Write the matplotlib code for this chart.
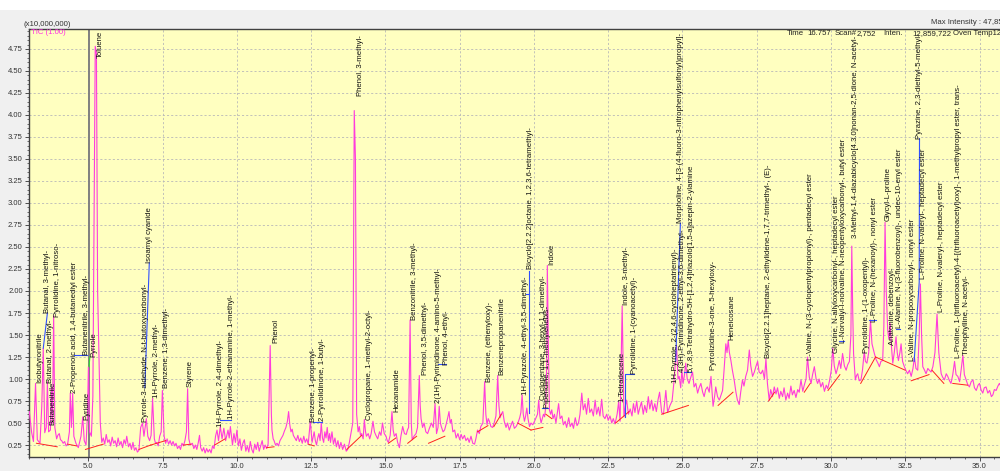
import matplotlib
matplotlib.use("Agg")
import matplotlib.pyplot as plt
from matplotlib.ticker import MultipleLocator, FormatStrFormatter
from matplotlib.patches import Rectangle

# ---------------- data ----------------
# TIC trace, (retention time [min], intensity [x10,000,000]) by region
seg_a = [(3.01, 0.63), (3.09, 0.39), (3.15, 0.29), (3.22, 0.95), (3.28, 0.31), (3.37, 0.27), (3.43, 0.69),
         (3.48, 1.35), (3.53, 0.39), (3.58, 0.45), (3.62, 0.97), (3.66, 0.40), (3.72, 0.42), (3.76, 0.90),
         (3.79, 0.50), (3.83, 1.72), (3.87, 0.45), (3.93, 0.32), (3.97, 0.36), (4.02, 0.38), (4.06, 0.31),
         (4.10, 0.30), (4.15, 0.27), (4.20, 0.29), (4.25, 0.24), (4.30, 0.26), (4.36, 0.40), (4.39, 0.84),
         (4.43, 0.45), (4.47, 0.84), (4.51, 0.35), (4.58, 0.27), (4.66, 0.22), (4.75, 0.35), (4.81, 0.57),
         (4.86, 0.30), (4.92, 0.25), (4.97, 0.60), (5.00, 1.14), (5.04, 0.40), (5.10, 0.35), (5.15, 0.80),
         (5.19, 2.80), (5.23, 4.78), (5.27, 4.70), (5.31, 2.00), (5.35, 1.36)]
seg_b = [(5.40, 0.50), (5.45, 0.28), (5.50, 0.33), (5.55, 0.26), (5.60, 0.37), (5.65, 0.28), (5.70, 0.31),
         (5.75, 0.24), (5.80, 0.34), (5.85, 0.27), (5.90, 0.30), (5.95, 0.23), (6.00, 0.33), (6.05, 0.25),
         (6.10, 0.29), (6.15, 0.22), (6.20, 0.31), (6.25, 0.26), (6.29, 0.35), (6.35, 0.23), (6.40, 0.27),
         (6.45, 0.20), (6.50, 0.28), (6.55, 0.19), (6.60, 0.22), (6.65, 0.17), (6.70, 0.19)]
seg_c = [(6.76, 0.45), (6.82, 0.50), (6.87, 0.35), (6.95, 0.55), (7.00, 0.35), (7.06, 0.30), (7.11, 0.36),
         (7.16, 0.78), (7.22, 0.32), (7.26, 0.27), (7.30, 0.28), (7.35, 0.24), (7.40, 0.35), (7.45, 0.40),
         (7.49, 0.87)]
seg_d = [(7.55, 0.35), (7.60, 0.27), (7.65, 0.32), (7.70, 0.26), (7.75, 0.30), (7.80, 0.25), (7.85, 0.29),
         (7.90, 0.24), (7.95, 0.27), (8.00, 0.21), (8.05, 0.24), (8.10, 0.20), (8.15, 0.27), (8.20, 0.24),
         (8.25, 0.30), (8.30, 0.40), (8.34, 0.89), (8.38, 0.32), (8.43, 0.25), (8.50, 0.27), (8.55, 0.21),
         (8.60, 0.25), (8.65, 0.20), (8.70, 0.28), (8.74, 0.36), (8.78, 0.22), (8.83, 0.18), (8.88, 0.22),
         (8.93, 0.16), (8.98, 0.21), (9.03, 0.17), (9.08, 0.20), (9.13, 0.16), (9.18, 0.24), (9.23, 0.21),
         (9.28, 0.35)]
seg_e = [(9.33, 0.42), (9.38, 0.30), (9.44, 0.46), (9.50, 0.32), (9.56, 0.44), (9.62, 0.30), (9.66, 0.36),
         (9.70, 0.42), (9.74, 0.33), (9.78, 0.46)]
seg_f = [(9.85, 0.25), (9.90, 0.38), (9.95, 0.28), (10.00, 0.42), (10.05, 0.24), (10.10, 0.32), (10.15, 0.19),
         (10.20, 0.27), (10.25, 0.31), (10.30, 0.18), (10.35, 0.24), (10.40, 0.17), (10.45, 0.29), (10.50, 0.20),
         (10.55, 0.16), (10.60, 0.26), (10.65, 0.20), (10.70, 0.28), (10.75, 0.18), (10.80, 0.24), (10.85, 0.30),
         (10.90, 0.20), (10.95, 0.25), (11.00, 0.21), (11.05, 0.26)]
seg_g = [(11.12, 1.38), (11.16, 0.60), (11.18, 0.42), (11.22, 0.32), (11.25, 0.30), (11.30, 0.25), (11.35, 0.27),
         (11.40, 0.24), (11.45, 0.30), (11.50, 0.33), (11.55, 0.36), (11.60, 0.41), (11.65, 0.45), (11.70, 0.52),
         (11.74, 0.63), (11.78, 0.48), (11.82, 0.40), (11.86, 0.43), (11.90, 0.36), (11.95, 0.33)]
seg_h = [(12.00, 0.30), (12.05, 0.36), (12.10, 0.29), (12.15, 0.33), (12.20, 0.27), (12.25, 0.35), (12.30, 0.28),
         (12.35, 0.32), (12.40, 0.26), (12.47, 0.52), (12.53, 0.28), (12.60, 0.40), (12.64, 0.30), (12.68, 0.25),
         (12.72, 0.33), (12.76, 0.38), (12.80, 0.30), (12.84, 0.50), (12.88, 0.33), (12.92, 0.28), (12.96, 0.40),
         (13.00, 0.33), (13.04, 0.45), (13.08, 0.30), (13.12, 0.38), (13.15, 0.28), (13.20, 0.40), (13.25, 0.26),
         (13.30, 0.33), (13.35, 0.23), (13.40, 0.30), (13.45, 0.21), (13.50, 0.28), (13.56, 0.20), (13.62, 0.26),
         (13.68, 0.18), (13.73, 0.20), (13.78, 0.27)]
seg_i = [(13.90, 0.50), (13.95, 4.05), (13.99, 3.50), (14.03, 0.60), (14.08, 0.40), (14.12, 0.46), (14.16, 0.36),
         (14.20, 0.38), (14.25, 0.32), (14.29, 0.54), (14.33, 0.40), (14.36, 0.35), (14.42, 0.38), (14.47, 0.32),
         (14.52, 0.38), (14.58, 0.52), (14.63, 0.40), (14.68, 0.36), (14.74, 0.32), (14.80, 0.40), (14.85, 0.36),
         (14.90, 0.50), (14.96, 0.38), (15.02, 0.35), (15.06, 0.30), (15.10, 0.28), (15.16, 0.36), (15.22, 0.63),
         (15.26, 0.42), (15.30, 0.35), (15.36, 0.38), (15.41, 0.28), (15.47, 0.22), (15.52, 0.35), (15.58, 0.46),
         (15.64, 0.38), (15.70, 0.37), (15.74, 0.42), (15.78, 0.45), (15.83, 1.67), (15.87, 0.50), (15.90, 0.31),
         (15.96, 0.35), (16.03, 0.38), (16.08, 0.45), (16.14, 1.04), (16.17, 0.70), (16.20, 0.55), (16.25, 0.45),
         (16.30, 0.50), (16.36, 0.40), (16.42, 0.38), (16.48, 0.44), (16.55, 0.50), (16.61, 0.45), (16.67, 0.72),
         (16.72, 0.38), (16.77, 0.45), (16.81, 0.69), (16.85, 0.50), (16.88, 0.46), (16.94, 0.40), (16.99, 0.42),
         (17.04, 0.48), (17.09, 0.55)]
seg_j = [(17.14, 0.63), (17.18, 0.50), (17.22, 0.54), (17.27, 0.40), (17.33, 0.42), (17.38, 0.33), (17.44, 0.38),
         (17.50, 0.31), (17.55, 0.37), (17.60, 0.32), (17.66, 0.36), (17.71, 0.30), (17.77, 0.33), (17.82, 0.28),
         (17.88, 0.35), (17.94, 0.27), (18.00, 0.26), (18.05, 0.33), (18.10, 0.42), (18.16, 0.38), (18.21, 0.46)]
seg_k = [(18.28, 0.50), (18.34, 0.97), (18.38, 0.60), (18.42, 0.48), (18.46, 0.55), (18.50, 0.52), (18.55, 0.46),
         (18.61, 0.45), (18.66, 0.50), (18.72, 0.58), (18.78, 1.04), (18.82, 0.70), (18.86, 0.56), (18.90, 0.60),
         (18.95, 0.63), (19.00, 0.52), (19.06, 0.45), (19.11, 0.50), (19.17, 0.42), (19.22, 0.47), (19.28, 0.52),
         (19.34, 0.44), (19.40, 0.46), (19.46, 0.50), (19.52, 0.56), (19.56, 0.62), (19.60, 0.82), (19.64, 0.60),
         (19.68, 0.52), (19.72, 0.58), (19.76, 0.67), (19.80, 0.55), (19.85, 0.46), (19.90, 0.50), (19.96, 0.48),
         (20.02, 0.52), (20.07, 0.56), (20.12, 0.60), (20.16, 0.76), (20.20, 0.58), (20.24, 0.50), (20.28, 0.55),
         (20.32, 0.60), (20.36, 0.57), (20.40, 0.70), (20.43, 1.20), (20.45, 2.29), (20.48, 1.50), (20.52, 0.65),
         (20.56, 0.60)]
seg_l = [(20.60, 0.65), (20.64, 0.55), (20.69, 0.60), (20.74, 0.50), (20.79, 0.62), (20.83, 0.72), (20.88, 0.55),
         (20.94, 0.58), (20.99, 0.48), (21.05, 0.52), (21.10, 0.45), (21.17, 0.56), (21.22, 0.46), (21.28, 0.50),
         (21.33, 0.44), (21.39, 0.56), (21.45, 0.47), (21.50, 0.50), (21.55, 0.60), (21.61, 0.84), (21.66, 0.65),
         (21.72, 0.72), (21.77, 0.60), (21.83, 0.78), (21.88, 0.62), (21.94, 0.66), (22.00, 0.58), (22.06, 0.76),
         (22.11, 0.60), (22.17, 0.68), (22.22, 0.58), (22.28, 0.77), (22.33, 0.58), (22.39, 0.55), (22.45, 0.60),
         (22.50, 0.53), (22.56, 0.58), (22.62, 0.50), (22.67, 0.55), (22.73, 0.49), (22.80, 0.60), (22.85, 0.74)]
seg_m = [(22.90, 0.52), (22.97, 1.83)]
seg_n = [(23.03, 0.57), (23.08, 0.70), (23.12, 0.76), (23.18, 0.60), (23.24, 0.66), (23.30, 0.58), (23.35, 0.72),
         (23.40, 0.62), (23.46, 0.75), (23.51, 0.60), (23.57, 0.68), (23.62, 0.74), (23.68, 0.60), (23.73, 0.70),
         (23.79, 0.62), (23.85, 0.80), (23.90, 0.66), (23.96, 0.76), (24.01, 0.64), (24.07, 0.72), (24.12, 0.63),
         (24.18, 0.77), (24.23, 0.85)]
seg_o = [(24.30, 0.62), (24.36, 0.60), (24.44, 0.87), (24.50, 0.62), (24.58, 0.70), (24.65, 0.75), (24.72, 0.99),
         (24.80, 1.38), (24.85, 1.00), (24.89, 1.03), (24.94, 0.90), (24.98, 1.10), (25.02, 0.95), (25.06, 1.03),
         (25.11, 1.18), (25.16, 1.00), (25.22, 0.95), (25.28, 1.02), (25.34, 1.08), (25.39, 0.91), (25.45, 0.95),
         (25.51, 0.84), (25.56, 0.90), (25.62, 0.95), (25.68, 0.85), (25.73, 0.80), (25.78, 0.88), (25.84, 0.91),
         (25.90, 0.85), (25.96, 1.03), (26.03, 0.69), (26.08, 0.80), (26.12, 0.91), (26.18, 0.80), (26.24, 0.76),
         (26.30, 0.82), (26.35, 0.87), (26.40, 1.10), (26.46, 1.40), (26.50, 1.30), (26.54, 1.44), (26.58, 1.30),
         (26.63, 1.21), (26.68, 1.10), (26.74, 0.99), (26.80, 0.85), (26.85, 0.76), (26.91, 0.71), (26.96, 0.85),
         (27.02, 0.99), (27.07, 0.92), (27.13, 1.03), (27.19, 1.10), (27.25, 1.33), (27.30, 1.15), (27.36, 1.03),
         (27.42, 1.08), (27.47, 1.14), (27.53, 1.20), (27.58, 1.08), (27.64, 1.06), (27.70, 1.10), (27.76, 1.00),
         (27.81, 1.23), (27.86, 0.95)]
seg_p = [(27.92, 0.76), (27.97, 0.88), (28.03, 0.80), (28.09, 0.91), (28.15, 0.83), (28.20, 0.90), (28.26, 0.78),
         (28.31, 0.86), (28.37, 0.80), (28.42, 0.90), (28.48, 0.76), (28.54, 0.84), (28.59, 0.78), (28.65, 0.92),
         (28.70, 0.82), (28.76, 0.87), (28.82, 0.79), (28.88, 0.88), (28.93, 0.85), (28.99, 0.99), (29.05, 0.86),
         (29.10, 0.93)]
seg_q = [(29.16, 1.00), (29.21, 1.25), (29.27, 1.02), (29.33, 0.95), (29.38, 1.05), (29.44, 1.14), (29.50, 1.00),
         (29.55, 0.95), (29.60, 1.00), (29.66, 0.91), (29.72, 0.96), (29.78, 0.86), (29.84, 0.93), (29.89, 0.89),
         (29.95, 0.98), (30.01, 1.10), (30.06, 1.35), (30.11, 1.15), (30.17, 1.06), (30.22, 1.12), (30.28, 1.21),
         (30.33, 1.12), (30.39, 1.29), (30.45, 1.15), (30.51, 1.10), (30.56, 1.16), (30.62, 1.20), (30.67, 1.50),
         (30.70, 2.51), (30.73, 1.80), (30.76, 1.29), (30.82, 0.99), (30.86, 1.04), (30.90, 1.06), (30.95, 0.98),
         (31.01, 0.99), (31.06, 1.10), (31.12, 1.31), (31.16, 1.20), (31.21, 1.18), (31.27, 1.30), (31.33, 1.67),
         (31.38, 1.40), (31.46, 1.29), (31.52, 1.22), (31.58, 1.18), (31.63, 1.14), (31.68, 1.20), (31.74, 1.21),
         (31.78, 1.60), (31.82, 2.78), (31.86, 2.00), (31.91, 1.55), (31.95, 1.45), (31.99, 1.63), (32.04, 1.35),
         (32.08, 1.18), (32.13, 1.30), (32.19, 1.48), (32.23, 1.30), (32.27, 1.21), (32.32, 1.30), (32.36, 1.40),
         (32.41, 1.20), (32.47, 1.14), (32.52, 1.10), (32.58, 1.06), (32.64, 1.10), (32.70, 1.03), (32.76, 1.12),
         (32.81, 1.25), (32.86, 1.12), (32.92, 1.10), (32.97, 1.50), (33.01, 2.08), (33.05, 1.50), (33.09, 1.14),
         (33.15, 1.10), (33.20, 1.06), (33.26, 1.12), (33.31, 1.10), (33.37, 1.08), (33.43, 1.14), (33.50, 1.30),
         (33.57, 1.74), (33.63, 1.30), (33.71, 1.06), (33.76, 1.02), (33.82, 0.99), (33.88, 1.06), (33.93, 1.03),
         (33.99, 0.98), (34.04, 0.95), (34.10, 1.05), (34.16, 1.20), (34.21, 1.05), (34.27, 1.03), (34.33, 0.97),
         (34.38, 1.10), (34.44, 1.27), (34.49, 1.05), (34.55, 0.99), (34.60, 0.94), (34.66, 0.91), (34.72, 0.97),
         (34.78, 0.99), (34.83, 0.90), (34.89, 0.87), (34.95, 0.93), (35.00, 0.95), (35.05, 0.88), (35.11, 0.84),
         (35.16, 0.90), (35.22, 0.91), (35.28, 0.84), (35.34, 0.87), (35.40, 0.80), (35.45, 0.82), (35.50, 0.88),
         (35.56, 0.87), (35.62, 0.92), (35.67, 0.95), (35.73, 0.91)]

# integration baselines: (start time, start level, end time, end level)
base_t0 = [3.25, 4.30, 4.90, 6.70, 7.10, 8.20, 9.25, 11.00, 12.40, 13.70, 15.10, 15.75, 16.45, 18.10,
           18.65, 19.45, 19.90, 20.40, 22.75, 24.30, 26.20, 27.90, 29.10, 29.90, 31.00, 31.50, 32.70,
           33.40, 34.10]
base_v0 = [0.27, 0.26, 0.20, 0.20, 0.25, 0.25, 0.25, 0.22, 0.26, 0.20, 0.27, 0.27, 0.27, 0.40,
           0.46, 0.50, 0.42, 0.60, 0.50, 0.60, 0.70, 0.75, 0.85, 0.87, 0.95, 1.25, 0.98, 1.10, 0.95]
base_t1 = [3.95, 4.60, 5.50, 7.10, 7.60, 8.45, 9.60, 11.25, 12.60, 14.20, 15.35, 16.05, 17.00, 18.45,
           18.90, 19.90, 20.30, 20.60, 23.20, 25.20, 26.70, 28.10, 29.30, 30.30, 31.50, 32.50, 33.30,
           33.80, 34.60]
base_v1 = [0.23, 0.24, 0.26, 0.25, 0.30, 0.26, 0.32, 0.23, 0.24, 0.36, 0.33, 0.35, 0.35, 0.47,
           0.60, 0.42, 0.45, 0.55, 0.63, 0.70, 0.85, 0.85, 0.95, 1.05, 1.25, 1.10, 1.05, 0.95, 0.93]

# compound labels: name, retention time (x), level where the text starts
names = [
    "Isobutyronitrile", "Butanal, 3-methyl-", "Butanal, 2-methyl-", "Butanenitrile",
    "Pyrrolidine, 1-nitroso-", "2-Propenoic acid, 1,4-butanediyl ester", "Butanenitrile, 3-methyl-",
    "Pyridine", "Pyrrole", "Toluene", "Pyrrole-3-aldehyde, N-t-butoxycarbonyl-", "Isoamyl cyanide",
    "1H-Pyrrole, 2-methyl-", "Benzene, 1,3-dimethyl-", "Styrene", "1H-Pyrrole, 2,4-dimethyl-",
    "1H-Pyrrole-2-ethanamine, 1-methyl-", "Phenol", "Benzene, 1-propenyl-", "2-Pyrrolidinone, 1-butyl-",
    "Phenol, 3-methyl-", "Cyclopropane, 1-methyl-2-octyl-", "Hexanamide", "Benzonitrile, 3-methyl-",
    "Phenol, 3,5-dimethyl-", "2(1H)-Pyrimidinone, 4-amino-5-methyl-", "Phenol, 4-ethyl-",
    "Benzene, (ethenyloxy)-", "Benzenepropanenitrile", "1H-Pyrazole, 4-ethyl-3,5-dimethyl-",
    "Bicyclo[2.2.2]octane, 1,2,3,6-tetramethyl-", "Cyclopentane, 3-hexyl-1,1-dimethyl-",
    "Piperidine, 1,1'-methylenebis-", "Indole", "1-Tetradecene", "Indole, 3-methyl-",
    "Pyrrolidine, 1-(cyanoacetyl)-", "1H-Pyrrole, 2-(2,4,6-cycloheptatrienyl)-",
    "4(3H)-Pyrimidinone, 2-ethyl-3,6-dimethyl-",
    "Morpholine, 4-[3-(4-fluoro-3-nitrophenylsulfonyl)propyl]-",
    "5,7,8,9-Tetrahydro-5H-[1,2,4]triazolo[1,5-a]azepin-2-ylamine",
    "Pyrrolizidine-3-one, 5-hexyloxy-", "Heneicosane",
    "Bicyclo[2.2.1]heptane, 2-ethylidene-1,7,7-trimethyl-, (E)-",
    "L-Valine, N-(3-cyclopentylpropionyl)-, pentadecyl ester",
    "Glycine, N-allyloxycarbonyl-, heptadecyl ester",
    "L-Norvalyl-l-norvaline, N-neopentyloxycarbonyl-, butyl ester",
    "3-Methyl-1,4-diazabicyclo[4.3.0]nonan-2,5-dione, N-acetyl-",
    "Pyrrolidine, 1-(1-oxopentyl)-", "L-Proline, N-(hexanoyl)-, nonyl ester", "Glycyl-L-proline",
    "Anatonine, debenzoyl-", "L-Alanine, N-(3-fluorobenzoyl)-, undec-10-enyl ester",
    "L-Valine, N-propoxycarbonyl-, nonyl ester", "L-Proline, N-valeryl-, heptadecyl ester",
    "Pyrazine, 2,3-diethyl-5-methyl-", "L-Proline, N-valeryl-, heptadecyl ester",
    "L-Proline, 1-(trifluoroacetyl)-4-[(trifluoroacetyl)oxy]-, 1-methylpropyl ester, trans-",
    "Theophylline, N-acetyl-"]
name_t = [3.37, 3.63, 3.74, 3.82, 3.95, 4.52, 4.95, 4.94, 5.18, 5.39, 6.93, 7.04, 7.30, 7.63, 8.43,
          9.44, 9.82, 11.30, 12.58, 12.89, 14.16, 14.48, 15.38, 15.99, 16.36, 16.79, 17.04, 18.49,
          18.93, 19.73, 19.88, 20.31, 20.46, 20.59, 22.97, 23.10, 23.39, 24.75, 25.00, 24.94, 25.28,
          26.03, 26.65, 27.89, 29.32, 30.19, 30.41, 30.81, 31.19, 31.48, 31.92, 32.07, 32.31, 32.76,
          33.10, 32.97, 33.72, 34.28, 34.56]
name_v = [0.96, 1.75, 0.95, 0.48, 1.71, 0.84, 1.27, 0.54, 1.25, 4.65, 0.51, 2.32, 0.78, 0.90, 0.91,
          0.46, 0.55, 1.41, 0.51, 0.52, 4.21, 0.53, 0.63, 1.67, 1.05, 0.73, 1.16, 0.97, 1.05, 0.82,
          2.25, 0.76, 0.67, 2.29, 0.74, 1.84, 1.06, 0.95, 1.08, 2.77, 1.08, 1.10, 1.44, 1.24, 1.22,
          1.30, 1.41, 2.60, 1.30, 1.65, 2.79, 1.39, 1.58, 1.20, 2.14, 3.73, 1.76, 1.24, 1.27]

# leader lines (blue) joining peaks to displaced labels
lead_t = [[3.48, 3.62], [4.50, 4.95], [6.90, 7.05], [9.44, 9.80], [12.55, 12.87], [16.77, 17.05],
          [19.74, 19.83, 19.83], [19.83, 19.83], [20.27, 20.46], [23.07, 23.07, 23.37],
          [24.77, 24.93], [25.06, 25.30], [30.28, 30.45], [31.29, 31.50], [32.19, 32.32],
          [32.80, 32.97, 32.98]]
lead_v = [[1.35, 1.75], [1.27, 1.27], [0.90, 2.32], [0.54, 0.54], [0.51, 0.51], [1.17, 1.17],
          [1.97, 1.97, 2.23], [0.61, 1.97], [0.67, 0.67], [0.57, 1.06, 1.06],
          [1.20, 2.77], [1.08, 1.08], [1.43, 1.43], [1.67, 1.67], [1.57, 1.57],
          [1.20, 2.10, 3.73]]

y_ticks = [0.25, 0.50, 0.75, 1.00, 1.25, 1.50, 1.75, 2.00, 2.25, 2.50, 2.75, 3.00, 3.25, 3.50,
           3.75, 4.00, 4.25, 4.50, 4.75]
x_ticks = [5.0, 7.5, 10.0, 12.5, 15.0, 17.5, 20.0, 22.5, 25.0, 27.5, 30.0, 32.5, 35.0]

segments = [seg_a, seg_b, seg_c, seg_d, seg_e, seg_f, seg_g, seg_h, seg_i, seg_j, seg_k, seg_l,
            seg_m, seg_n, seg_o, seg_p, seg_q]
rt = [p[0] for s in segments for p in s]
tic = [p[1] for s in segments for p in s]

# ---------------- drawing ----------------
FONT = "Liberation Sans"
plt.rcParams["font.family"] = [FONT, "DejaVu Sans"]

W, H = 1000, 471
fig = plt.figure(figsize=(W / 100, H / 100), dpi=100, facecolor="#f0f0f0")
fig.patches.append(Rectangle((0, 1 - 10 / H), 1, 10 / H, transform=fig.transFigure,
                             facecolor="white", edgecolor="none", zorder=0))

ax = fig.add_axes([29 / W, (H - 457) / H, 1 - 29 / W, (457 - 28.7) / H])
ax.set_facecolor("#ffffc0")
ax.set_xlim(3.0, 35.69)
ax.set_ylim(0.114, 4.98)

ax.set_xticks(x_ticks)
ax.set_yticks(y_ticks)
ax.xaxis.set_major_formatter(FormatStrFormatter("%.1f"))
ax.yaxis.set_major_formatter(FormatStrFormatter("%.2f"))
ax.xaxis.set_minor_locator(MultipleLocator(0.5))
ax.yaxis.set_minor_locator(MultipleLocator(0.05))
ax.tick_params(axis="both", which="major", labelsize=5.5, length=3, width=0.6,
               colors="#333333", pad=1.5)
ax.tick_params(axis="both", which="minor", length=1.5, width=0.5, colors="#333333")
ax.grid(True, which="major", color="#b8b8b8", linestyle=(0, (2.5, 2.5)), linewidth=0.6)
ax.set_axisbelow(True)
for side in ("left", "top", "bottom"):
    ax.spines[side].set_color("#404040")
    ax.spines[side].set_linewidth(1.0)
ax.spines["right"].set_visible(False)

# cursor line
ax.axvline(5.03, color="#808080", linewidth=1.4, zorder=1)

# chromatogram
ax.plot(rt, tic, color="#ff3cdc", linewidth=0.8, zorder=3)

# baselines
for a, b, c, d in zip(base_t0, base_v0, base_t1, base_v1):
    ax.plot([a, c], [b, d], color="#ff2020", linewidth=0.7, zorder=4)

# leaders
for lt, lv in zip(lead_t, lead_v):
    ax.plot(lt, lv, color="#3050ff", linewidth=0.8, zorder=4)
ax.plot([5.02, 5.05], [1.14, 1.25], color="#30e030", linewidth=0.8, zorder=4)

# labels
for n, t, v in zip(names, name_t, name_v):
    ax.text(t, v, n, rotation=90, ha="center", va="bottom", fontsize=5.6,
            color="#111111", clip_on=True, zorder=5)

# header texts (figure pixel coordinates)
def ftext(x, y, s, **kw):
    fig.text(x / W, 1 - y / H, s, fontsize=5.6, va="center", ha="left", **kw)

ftext(24, 24, "(x10,000,000)", color="#333333")
ftext(31, 33, "TIC (1.00)", color="#ff30e0")
ftext(931, 23, "Max Intensity : 47,859,722", color="#333333")
ftext(787, 33.5, "Time", color="#222222")
ftext(807, 33.5, "16.757", color="#222222")
ftext(835, 33.5, "Scan#", color="#222222")
ftext(857, 33.5, "2,752", color="#222222")
ftext(883, 33.5, "Inten.", color="#222222")
ftext(912, 33.5, "12,859,722", color="#222222")
ftext(953, 33.5, "Oven Temp123.0", color="#222222")

fig.savefig("out.png", dpi=100, facecolor=fig.get_facecolor())
